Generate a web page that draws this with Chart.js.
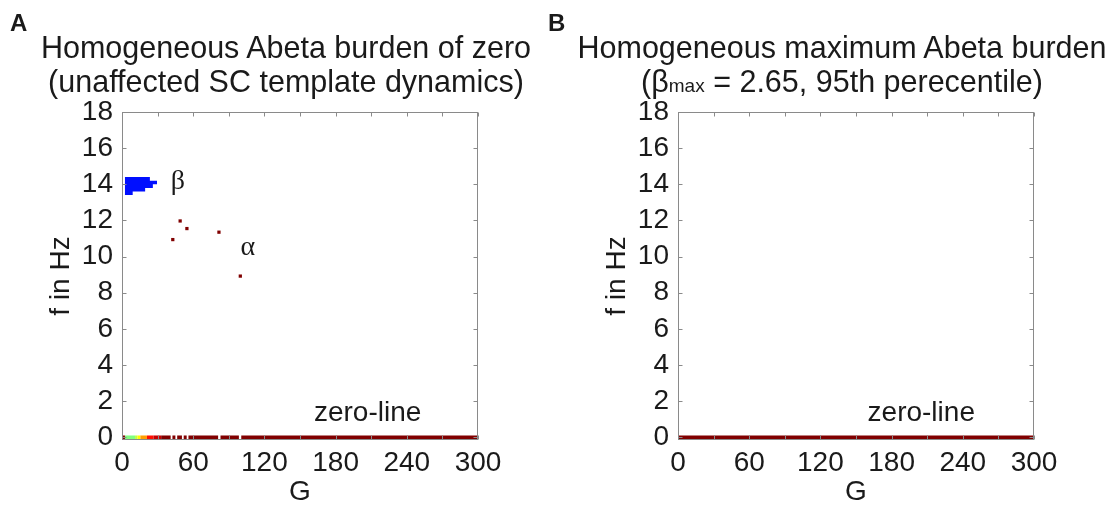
<!DOCTYPE html>
<html>
<head>
<meta charset="utf-8">
<script src="https://cdn.jsdelivr.net/npm/chart.js@4.4.0/dist/chart.umd.min.js"></script>
<style>
  body { margin: 0; background: #fff; width: 1113px; height: 509px; overflow: hidden; position: relative;
         font-family: "Liberation Sans", Arial, sans-serif; color: #1a1a1a; }
  canvas { position: absolute; top: 0; }
  #cA { left: 0; }
  #cB { left: 556px; }
  .lbl { position: absolute; top: 9px; font-weight: bold; font-size: 24px; line-height: 28px; }
  .ttl { position: absolute; top: 30px; font-size: 30.5px; line-height: 34px; text-align: center;
         white-space: nowrap; transform: translateX(-50%); }
</style>
</head>
<body>
<canvas id="cA" width="556" height="509"></canvas>
<canvas id="cB" width="557" height="509"></canvas>
<div class="lbl" style="left:10px">A</div>
<div class="lbl" style="left:548px">B</div>
<div class="ttl" style="left:286px">Homogeneous Abeta burden of zero<br>(unaffected SC template dynamics)</div>
<div class="ttl" style="left:842px">Homogeneous maximum Abeta burden<br>(β<span style="font-size:19px">max</span> = 2.65, 95th perecentile)</div>
<script>
// axes
const gTicks = [0, 30, 60, 90, 120, 150, 180, 210, 240, 270, 300];
const gLabels = [0, 60, 120, 180, 240, 300];
const fTicks = [0, 2, 4, 6, 8, 10, 12, 14, 16, 18];

// panel A: zero-line pieces along G, level on the jet scale (0..1)
const zeroFromA  = [0, 2.5, 11, 13, 15.5, 21, 26.5, 33, 42.5, 46.5, 52, 56, 83, 100.5];
const zeroToA    = [2.5, 11, 13, 15.5, 21, 26.5, 33, 41, 45, 50.5, 54.5, 81, 98.5, 300];
const zeroLevelA = [1, 0.5, 0.56, 0.63, 0.72, 0.86, 0.93, 1, 1, 1, 1, 1, 1, 1];

// panel A: beta blob rows (f in Hz, G range)
const blobF     = [14.3, 14.1, 13.9, 13.7, 13.5];
const blobGFrom = [2.5, 2.5, 2.5, 2.5, 2.5];
const blobGTo   = [23.5, 29.5, 26, 19.5, 9];
const blobLevel = 0.14;

// panel A: alpha peaks
const dotG = [42.8, 49, 54.7, 81.7, 99.7];
const dotF = [10.94, 11.97, 11.55, 11.35, 8.92];

// panel B: zero-line
const zeroFromB  = [0];
const zeroToB    = [300];
const zeroLevelB = [1];

// text notes (G, f)
const notesA = { text: ['β', 'α', 'zero-line'], g: [47, 106, 207], f: [13.75, 10.1, 0.9] };
const notesB = { text: ['zero-line'], g: [205], f: [0.9] };

function jet(t) {
    const c = v => Math.round(255 * Math.max(0, Math.min(1, v)));
    return `rgb(${c(1.5 - Math.abs(4 * t - 3))},${c(1.5 - Math.abs(4 * t - 2))},${c(1.5 - Math.abs(4 * t - 1))})`;
}

function zeroLine(from, to, level) {
    let pts = [];
    from.forEach((g, i) => {
        if (i > 0 && g > to[i - 1]) pts.push({ x: (g + to[i - 1]) / 2, y: null });
        pts.push({ x: g, y: 0 }, { x: to[i], y: 0 });
    });
    return {
        type: 'line',
        data: pts,
        borderWidth: 3.6,
        borderCapStyle: 'butt',
        pointRadius: 0,
        spanGaps: false,
        segment: {
            borderColor: c => {
                const mid = (pts[c.p0DataIndex].x + pts[c.p1DataIndex].x) / 2;
                let k = from.findIndex((g, i) => mid >= g && mid <= to[i]);
                return jet(level[k < 0 ? 0 : k]);
            }
        }
    };
}

function blobRows() {
    let pts = [];
    blobF.forEach((f, i) => {
        if (i > 0) pts.push({ x: blobGTo[i - 1], y: null });
        pts.push({ x: blobGFrom[i], y: f }, { x: blobGTo[i], y: f });
    });
    return { type: 'line', data: pts, borderColor: jet(blobLevel), borderWidth: 3.6,
             borderCapStyle: 'butt', pointRadius: 0, spanGaps: false };
}

function dots() {
    return { type: 'line', showLine: false, data: dotG.map((g, i) => ({ x: g, y: dotF[i] })),
             pointStyle: 'rect', pointRadius: 2.3, pointBorderWidth: 0,
             pointBackgroundColor: jet(1), borderColor: jet(1) };
}

function boxAndNotes(notes) {
    return {
        id: 'boxAndNotes',
        afterDatasetsDraw(chart) {
            const { ctx, chartArea: a, scales: { x, y } } = chart;
            ctx.save();
            ctx.strokeStyle = '#8a8a8a';
            ctx.lineWidth = 1;
            const L = Math.round(a.left) + 0.5, R = Math.round(a.right) - 0.5;
            const T = Math.round(a.top) + 0.5, B = Math.round(a.bottom) - 0.5;
            ctx.strokeRect(L, T, R - L, B - T);
            ctx.beginPath();
            x.ticks.forEach(t => {
                const px = Math.round(x.getPixelForValue(t.value)) + 0.5;
                ctx.moveTo(px, B); ctx.lineTo(px, B - 4);
                ctx.moveTo(px, T); ctx.lineTo(px, T + 4);
            });
            y.ticks.forEach(t => {
                const py = Math.round(y.getPixelForValue(t.value)) + 0.5;
                ctx.moveTo(L, py); ctx.lineTo(L + 4, py);
                ctx.moveTo(R, py); ctx.lineTo(R - 4, py);
            });
            ctx.stroke();

            ctx.fillStyle = '#1a1a1a';
            ctx.textAlign = 'center';
            ctx.textBaseline = 'alphabetic';
            notes.text.forEach((s, i) => {
                ctx.font = s.length > 1 ? '28px "Liberation Sans", Arial, sans-serif'
                                        : '28px "Liberation Serif", "Times New Roman", serif';
                ctx.fillText(s, x.getPixelForValue(notes.g[i]), y.getPixelForValue(notes.f[i]));
            });
            ctx.restore();
        }
    };
}

function makePanel(id, datasets, notes, padRight) {
    const font = { family: '"Liberation Sans", Arial, sans-serif', size: 28 };
    return new Chart(document.getElementById(id), {
        type: 'line',
        data: { datasets: datasets },
        options: {
            responsive: false,
            animation: false,
            events: [],
            layout: { padding: { top: 112, right: padRight, left: 0, bottom: 0 } },
            plugins: { legend: { display: false }, tooltip: { enabled: false } },
            scales: {
                x: {
                    type: 'linear', min: 0, max: 300,
                    afterBuildTicks: s => { s.ticks = gTicks.map(v => ({ value: v })); },
                    afterFit: s => { s.height = 69; },
                    grid: { display: false, drawTicks: false },
                    border: { display: false },
                    ticks: { autoSkip: false, maxRotation: 0, padding: 6, color: '#1a1a1a', font: font,
                             callback: v => gLabels.includes(v) ? String(v) : '' },
                    title: { display: true, text: 'G', color: '#1a1a1a', font: font, padding: 0 }
                },
                y: {
                    type: 'linear', min: -0.15, max: 18,
                    afterBuildTicks: s => { s.ticks = fTicks.map(v => ({ value: v })); },
                    afterFit: s => { s.width = 122; },
                    grid: { display: false, drawTicks: false },
                    border: { display: false },
                    ticks: { autoSkip: false, padding: 9, color: '#1a1a1a', font: font },
                    title: { display: true, text: 'f in Hz', color: '#1a1a1a', font: font, padding: { top: 44 } }
                }
            }
        },
        plugins: [boxAndNotes(notes)]
    });
}

makePanel('cA', [zeroLine(zeroFromA, zeroToA, zeroLevelA), blobRows(), dots()], notesA, 78);
makePanel('cB', [zeroLine(zeroFromB, zeroToB, zeroLevelB)], notesB, 79);
</script>
</body>
</html>
